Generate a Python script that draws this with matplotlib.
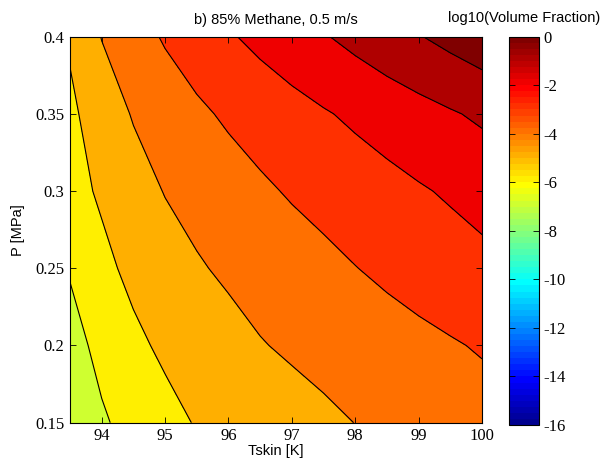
import numpy as np
import matplotlib

matplotlib.use("Agg")
import matplotlib.pyplot as plt
from matplotlib.cm import ScalarMappable
from matplotlib.colors import ListedColormap, Normalize

plt.rcParams["axes.unicode_minus"] = False

# skin temperature grid (K) and pressure grid (MPa)
tskin = [93.5, 94.0, 94.5, 95.0, 95.5, 96.0, 96.5, 97.0, 97.5, 98.0, 98.5, 99.0, 99.5, 100.0]
pressure = [0.15, 0.20, 0.25, 0.30, 0.35, 0.40]

# log10(volume fraction), one row per pressure
log_vf_015 = [-6.52, -6.11, -5.70, -5.29, -4.94, -4.75, -4.56, -4.37, -4.18, -3.99, -3.84, -3.69, -3.54, -3.38]
log_vf_020 = [-6.32, -5.76, -5.20, -4.83, -4.57, -4.31, -4.05, -3.87, -3.71, -3.55, -3.39, -3.23, -3.08, -2.92]
log_vf_025 = [-5.93, -5.23, -4.77, -4.43, -4.09, -3.85, -3.64, -3.44, -3.23, -3.02, -2.82, -2.63, -2.43, -2.24]
log_vf_030 = [-5.33, -4.87, -4.40, -3.96, -3.69, -3.42, -3.15, -2.91, -2.71, -2.50, -2.30, -2.09, -1.89, -1.69]
log_vf_035 = [-5.18, -4.53, -3.93, -3.55, -3.17, -2.86, -2.60, -2.34, -2.08, -1.83, -1.58, -1.34, -1.09, -0.84]
log_vf_040 = [-4.88, -3.97, -3.41, -2.90, -2.50, -2.10, -1.75, -1.41, -1.07, -0.73, -0.39, -0.05, 0.29, 0.63]

levels = [-7, -6, -5, -4, -3, -2, -1, 0, 1]
cbar_ticks = [0, -2, -4, -6, -8, -10, -12, -14, -16]
x_ticks = [94, 95, 96, 97, 98, 99, 100]
y_ticks = [0.15, 0.2, 0.25, 0.3, 0.35, 0.4]
y_tick_labels = ["0.15", "0.2", "0.25", "0.3", "0.35", "0.4"]

CMIN, CMAX = -16, 0


def matlab_jet(n=64):
    """MATLAB's jet(n) table."""
    m = int(np.ceil(n / 4))
    u = np.r_[np.arange(1, m + 1) / m, np.ones(m - 1), np.arange(m, 0, -1) / m]
    g = int(np.ceil(m / 2)) - (n % 4 == 1) + np.arange(1, len(u) + 1)
    r = g + m
    b = g - m
    rgb = np.zeros((n, 3))
    rgb[r[r <= n] - 1, 0] = u[r <= n]
    rgb[g[g <= n] - 1, 1] = u[g <= n]
    rgb[b[b >= 1] - 1, 2] = u[b >= 1]
    return rgb


jet = matlab_jet(64)
cmap = ListedColormap(jet)


def level_colour(v):
    # MATLAB colours a filled band by its lower level
    idx = int(np.floor((v - CMIN) / (CMAX - CMIN) * len(jet) + 1e-9))
    return jet[min(max(idx, 0), len(jet) - 1)]


Z = np.array([log_vf_015, log_vf_020, log_vf_025, log_vf_030, log_vf_035, log_vf_040])
T, P = np.meshgrid(tskin, pressure)

fig = plt.figure(figsize=(6.0, 4.62), dpi=100)
ax = fig.add_axes([0.1167, 0.0851, 0.6867, 0.8355])
cax = fig.add_axes([0.848, 0.0801, 0.05, 0.8405])

ax.contourf(T, P, Z, levels=levels, colors=[level_colour(v) for v in levels[:-1]])
ax.contour(T, P, Z, levels=levels[:-1], colors="k", linewidths=0.8,
           linestyles="solid")

ax.set_xlim(93.5, 100)
ax.set_ylim(0.15, 0.4)
ax.set_xticks(x_ticks)
ax.set_yticks(y_ticks)
ax.set_yticklabels(y_tick_labels)
ax.tick_params(direction="in", top=True, right=True, length=4, width=0.6,
               labelsize=12, pad=4)
for lab in ax.get_xticklabels() + ax.get_yticklabels():
    lab.set_family("Liberation Serif")
for s in ax.spines.values():
    s.set_linewidth(0.8)

sans = "Liberation Sans"
ax.set_xlabel("Tskin [K]", family=sans, fontsize=10.5, labelpad=0)
ax.set_ylabel("P [MPa]", family=sans, fontsize=10.5, labelpad=7)
ax.set_title("b) 85% Methane, 0.5 m/s", family=sans, fontsize=10.5, pad=9)

sm = ScalarMappable(norm=Normalize(CMIN, CMAX), cmap=cmap)
cb = fig.colorbar(sm, cax=cax, ticks=cbar_ticks)
cb.outline.set_linewidth(0.8)
cax.tick_params(direction="in", left=True, right=True, length=4, width=0.6,
                labelsize=12, pad=3)
for lab in cax.get_yticklabels():
    lab.set_family("Liberation Serif")
fig.text(0.873, 0.962, "log10(Volume Fraction)", family=sans, fontsize=10.5,
         ha="center", va="center")

fig.savefig("out.png", dpi=100)
